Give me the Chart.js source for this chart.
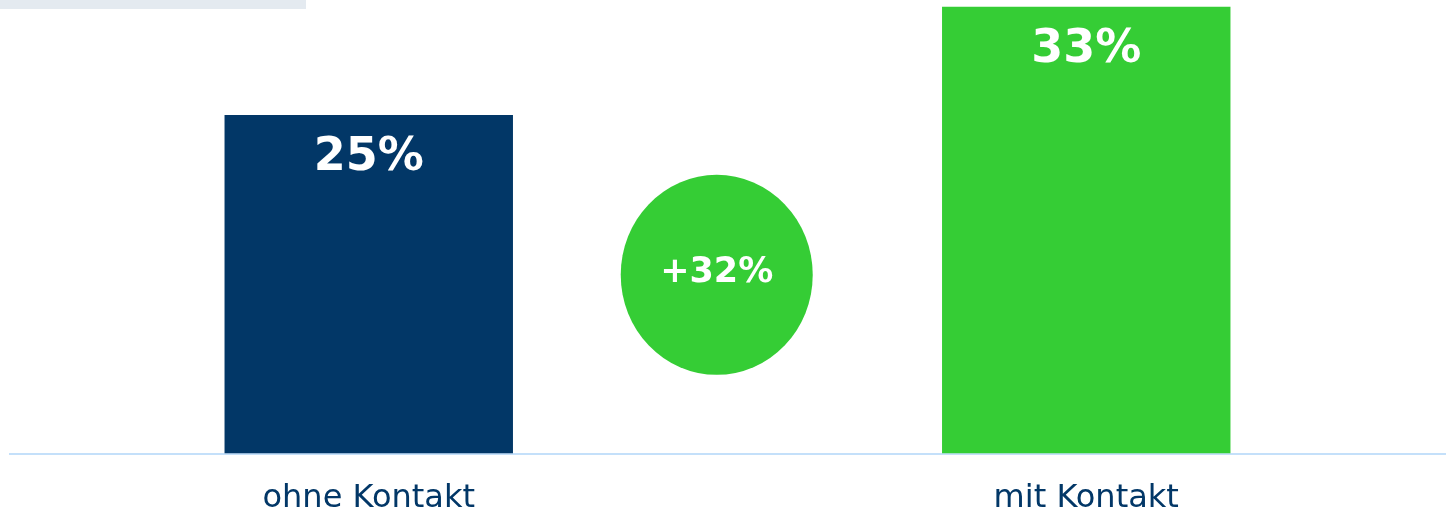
<!DOCTYPE html>
<html>
<head>
<meta charset="utf-8">
<script src="https://cdn.jsdelivr.net/npm/chart.js@4"></script>
<style>
  html, body { margin: 0; padding: 0; background: #fff; overflow: hidden; }
  .topbox { position: absolute; left: 0; top: 0; width: 306px; height: 9px; background: #e4eaf0; }
  .wrap { position: absolute; left: 0; top: 0; width: 1447px; height: 536px; }
</style>
</head>
<body>
<div class="wrap"><canvas id="chart"></canvas></div>
<div class="topbox"></div>
<script>
const categories = ['ohne Kontakt', 'mit Kontakt'];
const values = [25, 33];
const barColors = ['#023767', '#35cd35'];

// relative lift between the two groups
const lift = Math.round((values[1] / values[0] - 1) * 100);

const barLabels = {
  id: 'barLabels',
  afterDatasetsDraw(chart) {
    const ctx = chart.ctx;
    const meta = chart.getDatasetMeta(0);
    ctx.save();
    ctx.fillStyle = '#fff';
    ctx.font = 'bold 46px "DejaVu Sans"';
    ctx.textAlign = 'center';
    ctx.textBaseline = 'middle';
    meta.data.forEach((bar, i) => {
      ctx.fillText(values[i] + '%', bar.x, bar.y + 43);
    });
    ctx.restore();
  }
};

const liftBubble = {
  id: 'liftBubble',
  afterDatasetsDraw(chart) {
    const ctx = chart.ctx;
    const x = chart.scales.x.getPixelForValue(0.485);
    const y = chart.scales.y.getPixelForValue(13.2);
    ctx.save();
    ctx.fillStyle = '#35cd35';
    ctx.beginPath();
    ctx.ellipse(x, y, 96, 100, 0, 0, Math.PI * 2);
    ctx.fill();
    ctx.fillStyle = '#fff';
    ctx.font = 'bold 35px "DejaVu Sans"';
    ctx.textAlign = 'center';
    ctx.textBaseline = 'middle';
    ctx.fillText('+' + lift + '%', x, y - 2);
    ctx.restore();
  }
};

new Chart(document.getElementById('chart'), {
  type: 'bar',
  data: {
    labels: categories,
    datasets: [{
      data: values,
      backgroundColor: barColors,
      barPercentage: 0.402,
      categoryPercentage: 1
    }]
  },
  options: {
    responsive: true,
    maintainAspectRatio: false,
    animation: false,
    layout: { padding: { left: 10, right: 2, top: 0, bottom: 0 } },
    plugins: { legend: { display: false }, tooltip: { enabled: false } },
    scales: {
      x: {
        grid: { display: false },
        border: { display: true, color: '#c4e0fa', width: 2 },
        ticks: {
          color: '#023767',
          font: { family: '"DejaVu Sans"', size: 32 },
          padding: 18
        }
      },
      y: {
        display: false,
        min: 0,
        max: 33.5
      }
    }
  },
  plugins: [barLabels, liftBubble]
});
</script>
</body>
</html>
